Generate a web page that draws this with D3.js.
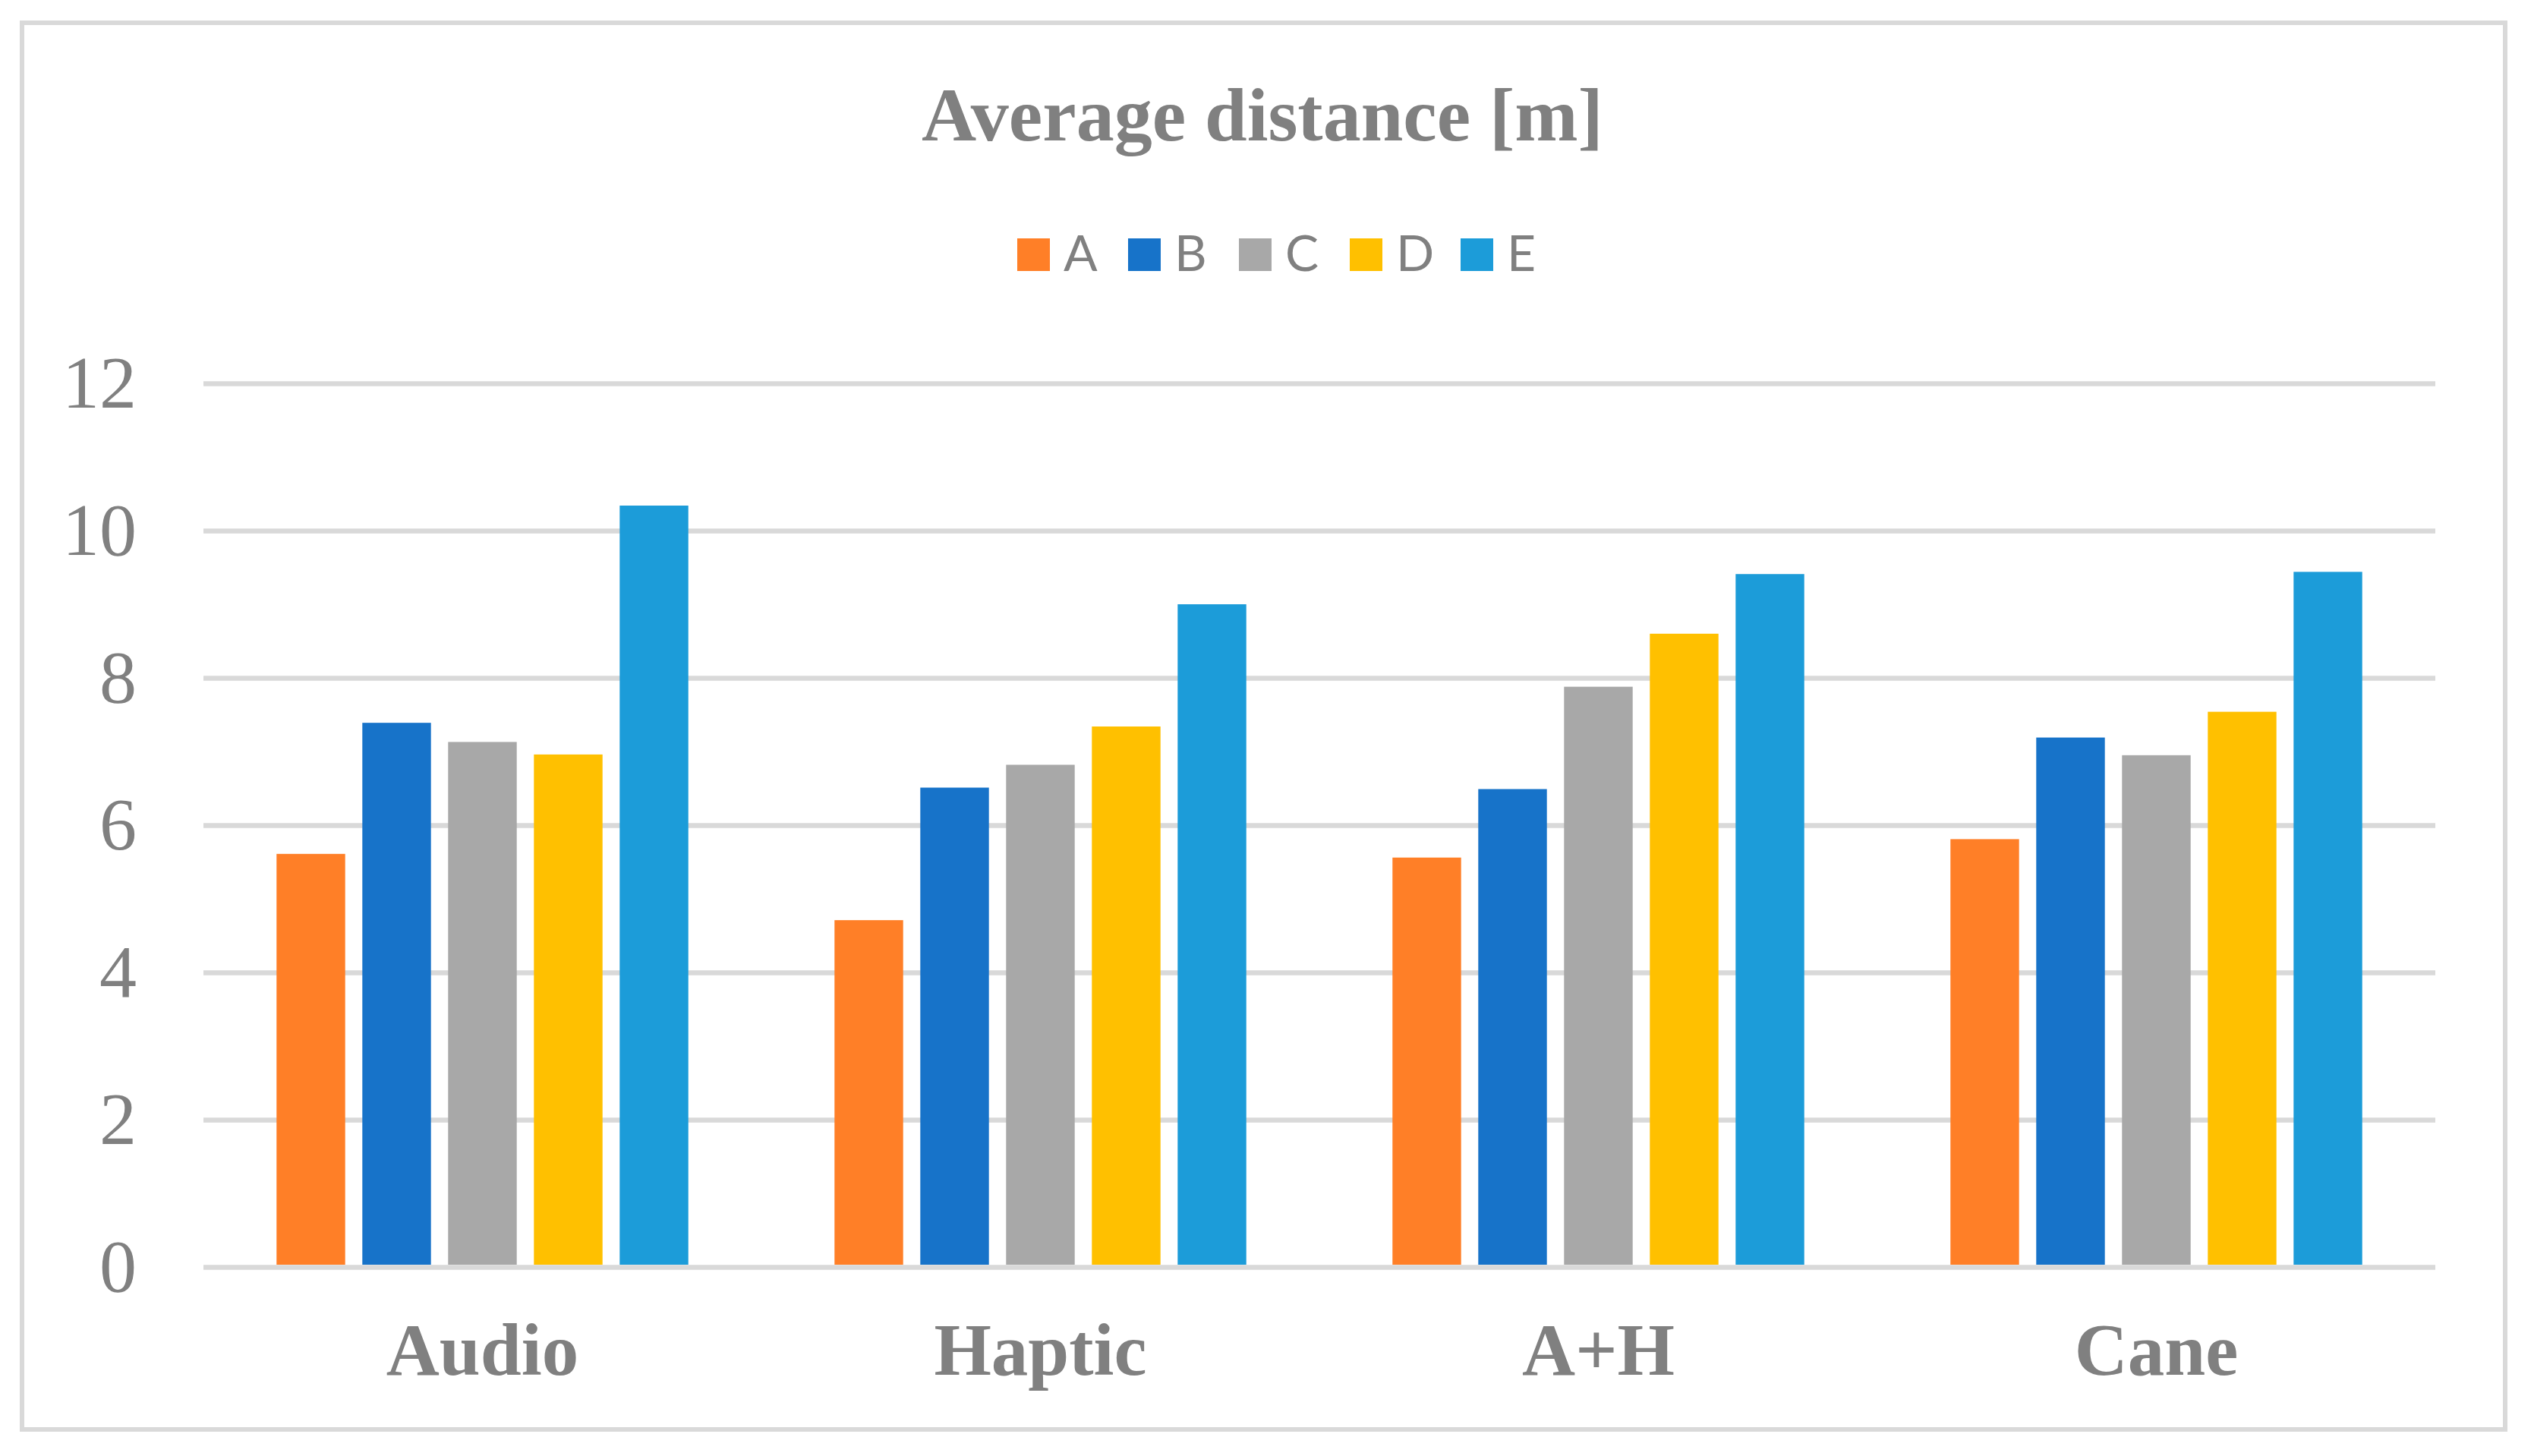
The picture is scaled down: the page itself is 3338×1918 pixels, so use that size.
<!DOCTYPE html>
<html>
<head>
<meta charset="utf-8">
<script src="https://cdn.jsdelivr.net/npm/d3@7"></script>
<style>
  body { margin: 0; background: #fff; }
  svg { display: block; }
</style>
</head>
<body>
<div id="chart"></div>
<script>
// data
var groups = ["Audio", "Haptic", "A+H", "Cane"];
var seriesNames = ["A", "B", "C", "D", "E"];
var seriesA = [5.61, 4.71, 5.56, 5.81];
var seriesB = [7.39, 6.51, 6.49, 7.19];
var seriesC = [7.13, 6.82, 7.88, 6.95];
var seriesD = [6.96, 7.34, 8.60, 7.54];
var seriesE = [10.34, 9.00, 9.41, 9.44];
var yTicks = [0, 2, 4, 6, 8, 10, 12];

var seriesValues = [seriesA, seriesB, seriesC, seriesD, seriesE];
var seriesColors = ["#ff7f27", "#1773c9", "#a8a8a8", "#ffc000", "#1c9cd9"];

// looks
var width = 3338, height = 1918;
var textGray = "#808080";
var gridColor = "#d9d9d9";
var serif = "'Liberation Serif', 'Times New Roman', serif";
var sans = "Lato, 'Noto Sans', sans-serif";

var plotLeft = 268, plotRight = 3208, plotTop = 505, plotBottom = 1669;

const svg = d3.select("#chart").append("svg")
    .attr("width", width)
    .attr("height", height);

svg.append("rect")
    .attr("width", width).attr("height", height)
    .attr("fill", "#fff");

// outer frame
svg.append("rect")
    .attr("x", 29).attr("y", 30)
    .attr("width", 3271).attr("height", 1853)
    .attr("fill", "none")
    .attr("stroke", gridColor)
    .attr("stroke-width", 6);

// scales
const y = d3.scaleLinear().domain([0, 12]).range([plotBottom, plotTop]);
const x0 = d3.scaleBand().domain(groups).range([plotLeft, plotRight]).padding(0);
const bw = x0.bandwidth();
const x1 = d3.scaleBand().domain(seriesNames)
    .range([bw * 0.131, bw * 0.869])
    .paddingInner(0.2);

// y axis + gridlines
const yAxis = svg.append("g")
    .attr("transform", `translate(${plotLeft},0)`)
    .call(d3.axisLeft(y)
      .tickValues(yTicks)
      .tickSize(-(plotRight - plotLeft))
      .tickPadding(88)
      .tickFormat(d3.format("d")));

yAxis.select(".domain").remove();
yAxis.selectAll(".tick line")
    .attr("stroke", gridColor)
    .attr("stroke-width", 6.5);
yAxis.selectAll(".tick text")
    .attr("fill", textGray)
    .attr("font-family", serif)
    .attr("font-size", 98);

// bars
const groupG = svg.append("g")
  .selectAll("g")
  .data(groups)
  .join("g")
    .attr("transform", d => `translate(${x0(d)},0)`);

groupG.selectAll("rect")
  .data((g, gi) => seriesNames.map((s, si) => ({ s: s, v: seriesValues[si][gi], c: seriesColors[si] })))
  .join("rect")
    .attr("x", d => x1(d.s))
    .attr("width", x1.bandwidth())
    .attr("y", d => y(d.v))
    .attr("height", d => y(0) - 3 - y(d.v))
    .attr("fill", d => d.c);

// x labels
svg.append("g")
  .selectAll("text")
  .data(groups)
  .join("text")
    .attr("x", d => x0(d) + bw / 2)
    .attr("y", 1811)
    .attr("text-anchor", "middle")
    .attr("font-family", serif)
    .attr("font-weight", "bold")
    .attr("font-size", 97)
    .attr("fill", textGray)
    .text(d => d);

// title
svg.append("text")
    .attr("x", 1663)
    .attr("y", 185)
    .attr("text-anchor", "middle")
    .attr("font-family", serif)
    .attr("font-weight", "bold")
    .attr("font-size", 100)
    .attr("fill", textGray)
    .text("Average distance [m]");

// legend
const legend = svg.append("g")
  .selectAll("g")
  .data(seriesNames)
  .join("g")
    .attr("transform", (d, i) => `translate(${1340 + i * 146},314)`);

legend.append("rect")
    .attr("width", 43).attr("height", 43)
    .attr("fill", (d, i) => seriesColors[i]);

legend.append("text")
    .attr("x", 61)
    .attr("y", 43)
    .attr("font-family", sans)
    .attr("font-size", 66)
    .attr("fill", textGray)
    .text(d => d);
</script>
</body>
</html>
